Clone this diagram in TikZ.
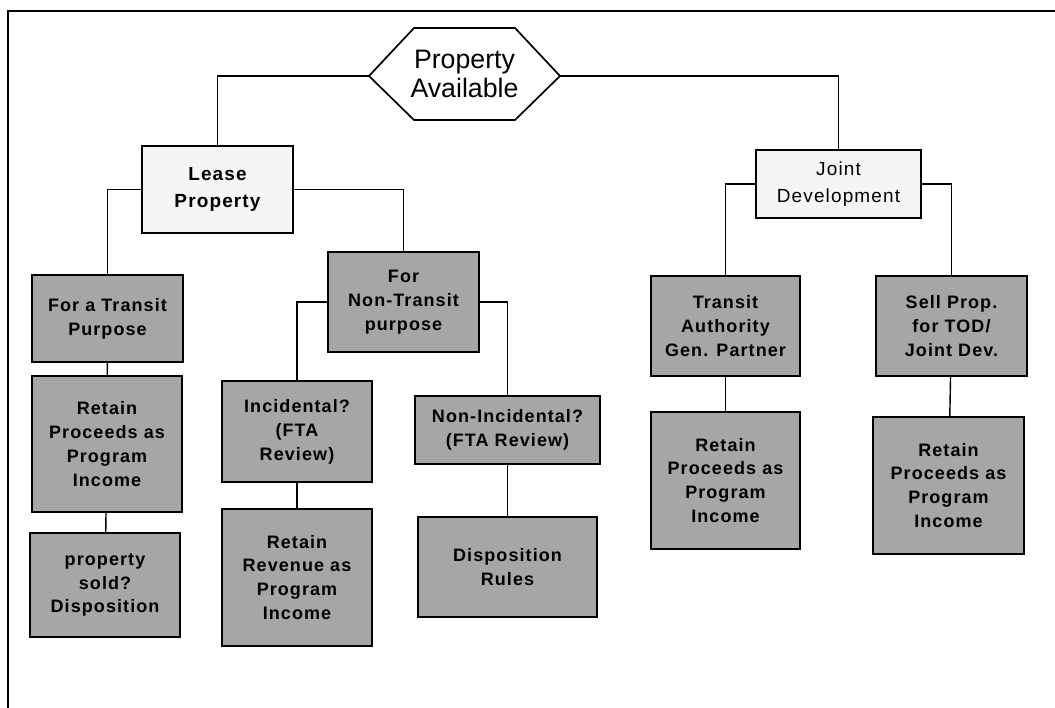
\documentclass[tikz,border=0pt]{standalone}
\usepackage{fontspec}
\setmainfont{Liberation Sans}
\newfontfamily\chartfont[LetterSpace=6]{Liberation Sans}
\tikzstyle{frame} = [line width=1.5pt]
\tikzstyle{link} = [line width=1pt]
\tikzstyle{litebox} = [draw, line width=1.2pt, fill=black!4, align=center, inner sep=0pt,
  font=\chartfont\fontsize{13.5}{19}\selectfont]
\tikzstyle{greybox} = [draw, line width=1.7pt, fill=black!35, align=center, inner sep=0pt,
  minimum width=3.75cm, font=\chartfont\bfseries\fontsize{12.8}{17}\selectfont]

\begin{document}
\begin{tikzpicture}[x=0.025cm,y=-0.025cm]
  \useasboundingbox (0,0) rectangle (1055,708);
  \draw[frame] (8,708) -- (8,11) -- (1055,11);

  % top of the chart
  \coordinate (hexW) at (369,76);
  \coordinate (hexE) at (560,76);
  \draw[line width=1.2pt, fill=white] (hexW) -- (414,28) -- (515,28) -- (hexE) -- (515,120) -- (414,120) -- cycle;
  \node[align=center, font=\fontsize{19}{21}\selectfont] (avail) at (464.5,74) {Property\\Available};

  \node[litebox, minimum width=3.775cm, minimum height=2.175cm] (lease) at (217.5,189.5) {\bfseries Lease\\\bfseries Property};
  \node[litebox, minimum width=4.125cm, minimum height=1.7cm] (joint) at (838.5,184) {Joint\\Development};

  % lease branch
  \node[greybox, minimum width=3.775cm, minimum height=2.175cm] (transit) at (107.5,318.5) {For a Transit\\Purpose};
  \node[greybox, minimum height=3.4cm] (retainA) at (107,444) {Retain\\Proceeds as\\Program\\Income};
  \node[greybox, minimum height=2.6cm] (sold) at (105,585) {property\\sold?\\Disposition};
  \node[greybox, minimum width=3.775cm, minimum height=2.5cm] (nontr) at (403.5,302) {For\\Non-Transit\\purpose};
  \node[greybox, minimum height=2.525cm] (incid) at (297,431.5) {Incidental?\\(FTA\\Review)};
  \node[greybox, minimum height=3.425cm] (retainB) at (297,577.5) {Retain\\Revenue as\\Program\\Income};
  \node[greybox, minimum width=4.625cm, minimum height=1.7cm] (nonincid) at (507.5,430) {Non-Incidental?\\(FTA Review)};
  \node[greybox, minimum width=4.475cm, minimum height=2.5cm] (disp) at (507.5,567) {Disposition\\Rules};

  % joint development branch
  \node[greybox, minimum width=3.725cm, minimum height=2.5cm] (partner) at (725.5,326) {Transit\\Authority\\Gen. Partner};
  \node[greybox, minimum width=3.725cm, minimum height=3.425cm] (retainC) at (725.5,480.5) {Retain\\Proceeds as\\Program\\Income};
  \node[greybox, minimum width=3.775cm, minimum height=2.5cm] (sell) at (951.5,326) {Sell Prop.\\for TOD/\\Joint Dev.};
  \node[greybox, minimum width=3.775cm, minimum height=3.425cm] (retainD) at (948.5,485.5) {Retain\\Proceeds as\\Program\\Income};

  \draw[link] (hexW) -| (lease);
  \draw[link] (hexE) -| (joint);
  \draw[link] (lease) -| (transit);
  \draw[link] (lease) -| (nontr);
  \draw[link] (nontr) -| (incid);
  \draw[link] (nontr) -| (nonincid);
  \draw[link] (joint) -| (partner);
  \draw[link] (joint) -| (sell);
  \draw[link] (transit) -- (retainA);
  \draw[link] (retainA) -- (sold);
  \draw[link] (incid) -- (retainB);
  \draw[link] (nonincid) -- (disp);
  \draw[link] (partner) -- (retainC);
  \draw[link] (sell) -- (retainD);
\end{tikzpicture}
\end{document}
